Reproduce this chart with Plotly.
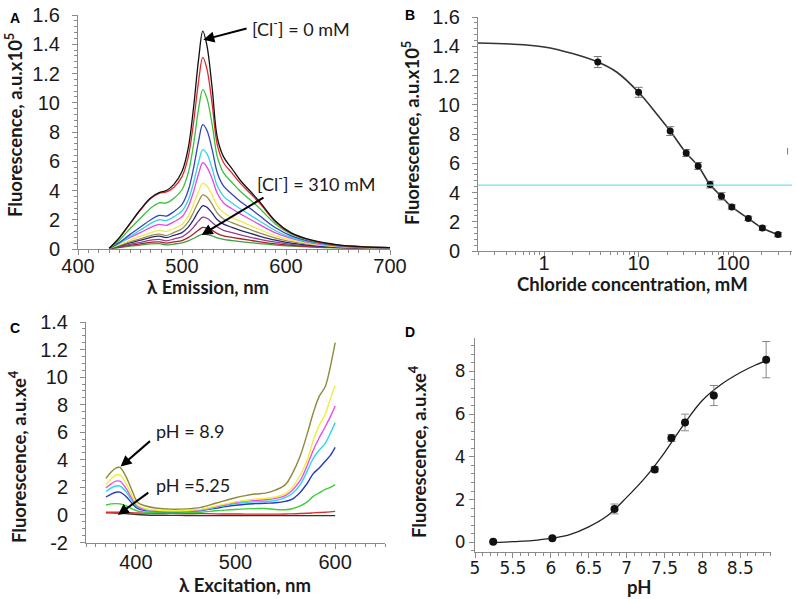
import math
import plotly.graph_objects as go

# ---------------- Panel A: emission spectra vs chloride ----------------
wl_A = [430, 440, 450, 460, 470, 478, 485, 492, 500, 506, 511, 516, 520, 524,
        529, 534, 540, 548, 556, 565, 575, 590, 605, 625, 650, 675, 700]
A_black = [0.05, 0.8, 1.75, 2.7, 3.5, 3.85, 4.0, 4.4, 5.3, 6.9, 9.6, 13.0, 14.9, 13.9,
           11.0, 7.6, 6.3, 5.5, 4.7, 4.0, 3.2, 1.9, 1.1, 0.6, 0.28, 0.15, 0.1]
A_red = [0.05, 0.78, 1.72, 2.66, 3.45, 3.8, 3.9, 4.2, 4.95, 6.3, 8.6, 11.5, 13.1, 12.3,
         9.9, 7.1, 5.9, 5.2, 4.5, 3.85, 3.1, 1.85, 1.08, 0.58, 0.27, 0.15, 0.1]
A_green = [0.05, 0.62, 1.38, 2.1, 2.8, 3.15, 3.15, 3.45, 4.05, 5.2, 7.1, 9.6, 10.9, 10.3,
           8.5, 6.3, 5.2, 4.55, 3.95, 3.4, 2.75, 1.7, 1.02, 0.55, 0.26, 0.14, 0.1]
A_blue = [0.05, 0.45, 1.0, 1.5, 2.0, 2.3, 2.25, 2.55, 3.05, 4.0, 5.5, 7.4, 8.5, 8.1,
          6.8, 5.2, 4.3, 3.75, 3.25, 2.8, 2.25, 1.45, 0.9, 0.5, 0.24, 0.13, 0.1]
A_cyan = [0.05, 0.4, 0.85, 1.3, 1.75, 2.0, 1.95, 2.2, 2.6, 3.35, 4.5, 5.95, 6.8, 6.5,
          5.5, 4.3, 3.6, 3.15, 2.75, 2.35, 1.9, 1.25, 0.8, 0.45, 0.22, 0.12, 0.1]
A_magenta = [0.05, 0.45, 0.78, 1.12, 1.48, 1.68, 1.62, 1.85, 2.2, 2.9, 3.9, 5.15, 5.9, 5.6,
             4.8, 3.8, 3.15, 2.75, 2.4, 2.05, 1.65, 1.1, 0.72, 0.4, 0.2, 0.12, 0.1]
A_yellow = [0.05, 0.3, 0.6, 0.88, 1.12, 1.28, 1.2, 1.4, 1.68, 2.25, 3.05, 3.95, 4.5, 4.3,
            3.7, 2.95, 2.5, 2.15, 1.9, 1.62, 1.32, 0.9, 0.6, 0.34, 0.17, 0.1, 0.08]
A_olive = [0.04, 0.25, 0.48, 0.7, 0.92, 1.02, 0.92, 1.12, 1.38, 1.85, 2.5, 3.25, 3.7, 3.55,
           3.05, 2.45, 2.05, 1.8, 1.58, 1.35, 1.08, 0.75, 0.5, 0.3, 0.16, 0.1, 0.08]
A_navy = [0.04, 0.22, 0.42, 0.6, 0.8, 0.88, 0.78, 0.93, 1.12, 1.5, 2.0, 2.6, 2.96, 2.85,
          2.45, 2.0, 1.7, 1.48, 1.28, 1.08, 0.87, 0.6, 0.4, 0.24, 0.13, 0.09, 0.07]
A_purple = [0.03, 0.17, 0.32, 0.46, 0.6, 0.66, 0.56, 0.68, 0.83, 1.12, 1.48, 1.92, 2.18, 2.1,
            1.82, 1.5, 1.28, 1.12, 0.97, 0.82, 0.66, 0.47, 0.32, 0.2, 0.11, 0.08, 0.06]
A_darkred = [0.03, 0.13, 0.25, 0.35, 0.45, 0.49, 0.4, 0.48, 0.58, 0.78, 1.02, 1.3, 1.48, 1.43,
             1.27, 1.05, 0.9, 0.8, 0.7, 0.6, 0.49, 0.35, 0.25, 0.16, 0.09, 0.07, 0.05]
A_darkgreen = [0.02, 0.1, 0.19, 0.27, 0.35, 0.37, 0.28, 0.34, 0.42, 0.56, 0.72, 0.9, 1.02, 0.99,
               0.9, 0.76, 0.66, 0.58, 0.51, 0.44, 0.37, 0.27, 0.2, 0.13, 0.08, 0.06, 0.05]
A_series = [A_darkgreen, A_darkred, A_purple, A_navy, A_olive, A_yellow, A_magenta,
            A_cyan, A_blue, A_green, A_red, A_black]
A_colors = ["#3f9f3f", "#a3262a", "#9a3c8c", "#262a78", "#97904f", "#f2e94a", "#e448e4",
            "#33d3e6", "#3344b8", "#36c03a", "#e0282c", "#111111"]
A_yticks = [0, 2, 4, 6, 8, 10, 12, 14, 16]
A_yticktext = ["0", "2", "4", "6", "8", "10", "1.2", "1.4", "1.6"]

# ---------------- Panel B: chloride titration ----------------
B_conc = [3.7, 10.0, 21.6, 31.9, 42.7, 57.1, 75.3, 96.9, 145, 204, 299]
B_fluo = [12.92, 10.85, 8.2, 6.7, 5.81, 4.54, 3.74, 3.01, 2.23, 1.57, 1.12]
B_err = [0.38, 0.34, 0.3, 0.24, 0.24, 0.23, 0.25, 0.15, 0.15, 0.15, 0.15]
B_fit_x = [0.2, 0.44, 1, 2, 3.7, 5.85, 10, 15.4, 21.6, 31.9, 42.7, 57, 75, 97, 145, 204, 299]
B_fit_y = [14.22, 14.15, 13.95, 13.5, 12.92, 12.24, 10.85, 9.4, 8.2, 6.7, 5.81, 4.54, 3.74,
           3.01, 2.23, 1.57, 1.12]
B_cyan_level = 4.5
B_xticks = [1, 10, 100]
B_minor = [0.2, 0.3, 0.4, 0.5, 0.6, 0.7, 0.8, 0.9, 2, 3, 4, 5, 6, 7, 8, 9,
           20, 30, 40, 50, 60, 70, 80, 90, 200, 300, 400]

# ---------------- Panel C: excitation spectra vs pH ----------------
wl_C = [370, 375, 380, 384, 390, 396, 402, 410, 420, 435, 450, 465, 480, 490,
        500, 510, 520, 530, 540, 550, 557, 565, 572, 578, 584, 590, 595, 600]
C_olive = [2.65, 3.1, 3.4, 3.45, 2.8, 1.8, 0.9, 0.65, 0.5, 0.42, 0.44, 0.55, 0.85, 1.05,
           1.25, 1.4, 1.52, 1.58, 1.8, 2.2, 3.0, 4.3, 5.9, 7.4, 8.6, 9.3, 10.7, 12.5]
C_yellow = [2.2, 2.6, 2.9, 2.9, 2.3, 1.4, 0.7, 0.45, 0.35, 0.3, 0.32, 0.4, 0.65, 0.8,
            0.95, 1.05, 1.15, 1.2, 1.3, 1.55, 2.0, 2.9, 4.0, 5.4, 6.5, 7.3, 8.4, 9.4]
C_magenta = [1.95, 2.25, 2.45, 2.45, 1.95, 1.2, 0.6, 0.4, 0.32, 0.28, 0.3, 0.38, 0.6, 0.75,
             0.9, 1.0, 1.05, 1.1, 1.2, 1.4, 1.8, 2.5, 3.6, 4.7, 5.6, 6.4, 7.1, 7.9]
C_cyan = [1.7, 1.95, 2.1, 2.1, 1.7, 1.05, 0.55, 0.37, 0.3, 0.27, 0.28, 0.35, 0.55, 0.7,
          0.82, 0.9, 0.95, 0.98, 1.05, 1.25, 1.55, 2.2, 3.2, 4.1, 4.7, 5.2, 5.9, 6.7]
C_blue = [1.3, 1.5, 1.65, 1.65, 1.35, 0.85, 0.45, 0.32, 0.27, 0.25, 0.27, 0.32, 0.48, 0.6,
          0.7, 0.78, 0.82, 0.85, 0.88, 0.98, 1.15, 1.65, 2.3, 3.0, 3.4, 3.9, 4.3, 4.9]
C_green = [0.72, 0.8, 0.82, 0.8, 0.68, 0.45, 0.28, 0.2, 0.17, 0.16, 0.17, 0.2, 0.3, 0.35,
           0.4, 0.44, 0.46, 0.47, 0.4, 0.38, 0.45, 0.65, 0.95, 1.35, 1.6, 1.85, 2.0, 2.2]
C_red = [0.2, 0.2, 0.2, 0.19, 0.18, 0.16, 0.14, 0.13, 0.12, 0.11, 0.1, 0.1, 0.08, 0.07,
         0.07, 0.06, 0.06, 0.06, 0.06, 0.07, 0.08, 0.1, 0.12, 0.15, 0.18, 0.2, 0.22, 0.26]
C_black = [0.15, 0.15, 0.14, 0.13, 0.1, 0.07, 0.03, 0.0, -0.02, -0.03, -0.04, -0.05, -0.05, -0.05,
           -0.05, -0.05, -0.05, -0.05, -0.05, -0.05, -0.05, -0.05, -0.05, -0.05, -0.05, -0.05, -0.05, -0.05]
C_series = [C_black, C_red, C_green, C_blue, C_cyan, C_magenta, C_yellow, C_olive]
C_colors = ["#333333", "#d8302a", "#3ccc3c", "#2a3ac0", "#2ed8ea", "#e84ee8", "#f2ee3a", "#8c8a3c"]
C_yticks = [-2, 0, 2, 4, 6, 8, 10, 12, 14]
C_yticktext = ["-2", "0", "2", "4", "6", "8", "10", "1.2", "1.4"]

# ---------------- Panel D: pH titration ----------------
D_pH = [5.24, 6.02, 6.84, 7.37, 7.59, 7.77, 8.15, 8.84]
D_fluo = [0.02, 0.19, 1.56, 3.41, 4.88, 5.61, 6.87, 8.55]
D_err = [0.0, 0.0, 0.23, 0.12, 0.16, 0.39, 0.47, 0.85]
D_fit_x = [5.25, 5.5, 5.75, 6.0, 6.25, 6.5, 6.75, 7.0, 7.25, 7.5, 7.75, 8.0, 8.25, 8.5, 8.7, 8.87]
D_fit_y = [-0.02, 0.03, 0.08, 0.18, 0.36, 0.72, 1.25, 2.1, 3.05, 4.2, 5.5, 6.65, 7.4, 7.95, 8.3, 8.55]
D_xticks = [5, 5.5, 6, 6.5, 7, 7.5, 8, 8.5]
D_yticks = [0, 2, 4, 6, 8]

for s in A_series:
    assert len(s) == len(wl_A)
for s in C_series:
    assert len(s) == len(wl_C)

W, H = 797, 599
def px(x):
    return x / W
def py(y):
    return 1 - y / H

fig = go.Figure()

for s, c in zip(A_series, A_colors):
    fig.add_trace(go.Scatter(x=wl_A, y=s, mode="lines", line=dict(color=c, width=1.3, shape="spline"),
                             xaxis="x", yaxis="y", showlegend=False, hoverinfo="skip"))

fig.add_trace(go.Scatter(x=B_fit_x, y=B_fit_y, mode="lines", line=dict(color="#333333", width=1.6, shape="spline"),
                         xaxis="x2", yaxis="y2", showlegend=False))
fig.add_trace(go.Scatter(x=B_conc, y=B_fluo, mode="markers",
                         marker=dict(color="#111111", size=7),
                         error_y=dict(type="data", array=B_err, color="#777777", thickness=1, width=4),
                         xaxis="x2", yaxis="y2", showlegend=False))

for s, c in zip(C_series, C_colors):
    fig.add_trace(go.Scatter(x=wl_C, y=s, mode="lines", line=dict(color=c, width=1.4, shape="spline"),
                             xaxis="x3", yaxis="y3", showlegend=False, hoverinfo="skip"))

fig.add_trace(go.Scatter(x=D_fit_x, y=D_fit_y, mode="lines", line=dict(color="#222222", width=1.3, shape="spline"),
                         xaxis="x4", yaxis="y4", showlegend=False))
fig.add_trace(go.Scatter(x=D_pH, y=D_fluo, mode="markers",
                         marker=dict(color="#111111", size=8),
                         error_y=dict(type="data", array=D_err, color="#888888", thickness=1, width=4),
                         xaxis="x4", yaxis="y4", showlegend=False))

tickfont = dict(family="Liberation Sans, Arial, sans-serif", size=20, color="#1a1a1a")
tickfontD = dict(family="DejaVu Sans, sans-serif", size=17, color="#1a1a1a")
axcommon = dict(showline=True, linecolor="#8a8a8a", linewidth=1, showgrid=False, zeroline=False,
                ticks="outside", ticklen=5, tickcolor="#8a8a8a", tickwidth=1, automargin=False,
                ticklabeloverflow="allow")
minor_common = dict(ticks="outside", ticklen=3, tickcolor="#8a8a8a", tickwidth=1, showgrid=False)

fig.update_layout(
    width=W, height=H, margin=dict(l=0, r=0, t=0, b=0, autoexpand=False),
    paper_bgcolor="white", plot_bgcolor="white", showlegend=False,
    xaxis=dict(domain=[px(78), px(390)], anchor="y", range=[400, 700], tickmode="linear", tick0=400, dtick=100,
               tickfont=tickfont, ticklabelstandoff=-6, minor=dict(dtick=10, **minor_common), **axcommon),
    yaxis=dict(domain=[py(249), py(15)], anchor="x", range=[0, 16], tickmode="array", tickvals=A_yticks,
               ticktext=A_yticktext, tickfont=tickfont, ticklabelstandoff=8,
               minor=dict(tickmode="linear", tick0=0, dtick=0.4, **minor_common), **axcommon),
    xaxis2=dict(domain=[px(478), px(792)], anchor="y2", type="log",
                range=[math.log10(0.2), math.log10(420)], tickmode="array", tickvals=B_xticks,
                ticktext=[str(v) for v in B_xticks], tickfont=tickfont, ticklabelstandoff=-11,
                minor=dict(tickvals=B_minor, **minor_common), **axcommon),
    yaxis2=dict(domain=[py(251), py(17)], anchor="x2", range=[0, 16], tickmode="array", tickvals=A_yticks,
                ticktext=A_yticktext, tickfont=tickfont, ticklabelstandoff=8,
                minor=dict(tickmode="linear", tick0=0, dtick=0.4, **minor_common), **axcommon),
    xaxis3=dict(domain=[px(86), px(385)], anchor="y3", range=[350, 650], tickmode="linear", tick0=400, dtick=100,
                tickfont=tickfont, ticklabelstandoff=-4,
                minor=dict(dtick=10, tick0=350, **minor_common), **axcommon),
    yaxis3=dict(domain=[py(542.5), py(322)], anchor="x3", range=[-2, 14], tickmode="array", tickvals=C_yticks,
                ticktext=C_yticktext, tickfont=tickfont, ticklabelstandoff=8,
                minor=dict(tickmode="linear", tick0=0, dtick=0.5, **minor_common), **axcommon),
    xaxis4=dict(domain=[px(475), px(770.7)], anchor="y4", range=[5, 8.9], tickmode="array", tickvals=D_xticks,
                ticktext=[("%g" % v) for v in D_xticks], tickfont=tickfontD, ticklabelstandoff=-5,
                minor=dict(tickmode="linear", dtick=0.1, tick0=5, **minor_common), **axcommon),
    yaxis4=dict(domain=[py(552.3), py(338.3)], anchor="x4", range=[-0.47, 9.55], tickmode="array", tickvals=D_yticks,
                ticktext=[str(v) for v in D_yticks], tickfont=tickfontD, ticklabelstandoff=0,
                minor=dict(tickmode="linear", dtick=0.4, tick0=0, **minor_common), **axcommon),
)

title_font = dict(family="Lato, Carlito, sans-serif", size=18.5, color="#1a1a1a")
letter_font = dict(family="Liberation Sans, Arial, sans-serif", size=14, color="#000000")
note_font = dict(family="Lato, Carlito, sans-serif", size=18, color="#1a1a1a")

ann = []
for letter, x, y in [("A", 8, 8), ("B", 403, 5), ("C", 8, 318), ("D", 403, 322)]:
    ann.append(dict(text="<b>%s</b>" % letter, x=px(x), y=py(y), xref="paper", yref="paper",
                    xanchor="left", yanchor="top", showarrow=False, font=letter_font))

titles = [
    ("<b>Fluorescence, a.u.x10<sup>5</sup></b>", 13, 125, -90),
    ("<b>λ Emission, nm</b>", 208, 287, 0),
    ("<b>Fluorescence, a.u.x10<sup>5</sup></b>", 410, 133, -90),
    ("<b>Chloride concentration, mM</b>", 632, 284, 0),
    ("<b>Fluorescence, a.u.xe<sup>4</sup></b>", 18, 457, -90),
    ("<b>λ Excitation, nm</b>", 245, 585, 0),
    ("<b>Fluorescence, a.u.xe<sup>4</sup></b>", 417, 452, -90),
    ("<b>pH</b>", 639, 587, 0),
]
for t, x, y, ang in titles:
    ann.append(dict(text=t, x=px(x), y=py(y), xref="paper", yref="paper", xanchor="center",
                    yanchor="middle", showarrow=False, textangle=ang, font=title_font))

# arrows (head at x,y ; tail at ax,ay) in data coordinates
arrows = [
    ("x", "y", 520.5, 14.3, 563.5, 15.1),
    ("x", "y", 518.9, 0.96, 579.8, 3.58),
    ("x3", "y3", 384.7, 3.51, 415.7, 5.45),
    ("x3", "y3", 382.0, 0.0, 414.0, 1.7),
]
for xr, yr, x, y, ax, ay in arrows:
    ann.append(dict(text="", x=x, y=y, ax=ax, ay=ay, xref=xr, yref=yr, axref=xr, ayref=yr,
                    showarrow=True, arrowhead=2, arrowsize=1.1, arrowwidth=2, arrowcolor="#000000",
                    standoff=0, startstandoff=0))

notes = [
    ("[Cl<sup>-</sup>] = 0 mM", "x", "y", 565, 15.1),
    ("[Cl<sup>-</sup>] = 310 mM", "x", "y", 570.2, 4.53),
    ("pH = 8.9", "x3", "y3", 418, 6.06),
    ("pH =5.25", "x3", "y3", 418, 2.18),
]
for t, xr, yr, x, y in notes:
    ann.append(dict(text=t, x=x, y=y, xref=xr, yref=yr, xanchor="left", yanchor="middle",
                    showarrow=False, font=note_font))

fig.update_layout(annotations=ann)

fig.add_shape(type="line", xref="x2 domain", yref="y2", x0=0, x1=1, y0=B_cyan_level, y1=B_cyan_level,
              line=dict(color="#6fe3ea", width=1.3))
fig.add_shape(type="line", xref="x2 domain", yref="y2", x0=0.986, x1=0.986, y0=6.6, y1=7.05,
              line=dict(color="#5577cc", width=1))

# remove the browser's default 8 px page margin so the figure sits at the window's corner
fig.write_html("out.html", config={"displayModeBar": False},
               post_script="document.body.style.margin='0';document.body.style.overflow='hidden';")
